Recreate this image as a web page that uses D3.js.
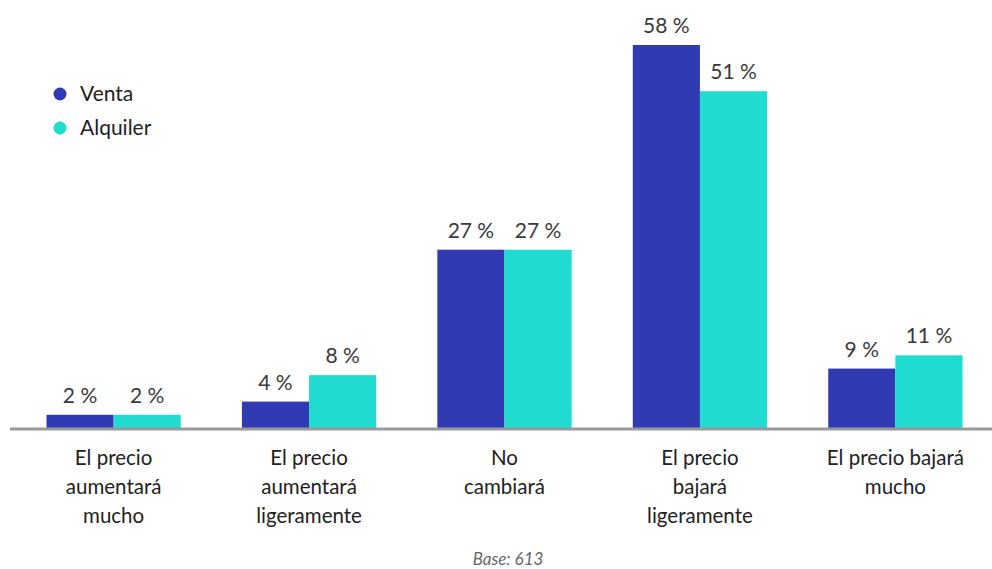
<!DOCTYPE html>
<html lang="es">
<head>
  <meta charset="UTF-8">
  <title>Expectativa de precios</title>
  <style>
    body { margin: 0; background: #fff; }
    svg { display: block; font-family: Lato, "Open Sans", sans-serif; }
  </style>
</head>
<body>
  <svg id="chart" width="992" height="569"></svg>

  <script src="https://d3js.org/d3.v7.min.js"></script>
  <script>
    const categories = [
      ["El precio", "aumentará", "mucho"],
      ["El precio", "aumentará", "ligeramente"],
      ["No", "cambiará"],
      ["El precio", "bajará", "ligeramente"],
      ["El precio bajará", "mucho"]
    ];
    const seriesNames = ["Venta", "Alquiler"];
    const venta = [2, 4, 27, 58, 9];
    const alquiler = [2, 8, 27, 51, 11];
    const colors = { Venta: "#303ab2", Alquiler: "#1fdbd0" };

    const svg = d3.select("#chart");
    const baseY = 428;

    const x = d3.scaleBand()
      .domain(d3.range(categories.length))
      .range([16, 993])
      .paddingInner(0.313)
      .paddingOuter(0.156);

    const xs = d3.scaleBand()
      .domain(seriesNames)
      .range([0, x.bandwidth()]);

    const y = d3.scaleLinear()
      .domain([0, 58])
      .range([baseY, 45]);

    const rows = categories.map((c, i) => ({
      i,
      values: [
        { key: "Venta", value: venta[i] },
        { key: "Alquiler", value: alquiler[i] }
      ]
    }));

    const groups = svg.append("g")
      .selectAll("g")
      .data(rows)
      .join("g")
      .attr("transform", d => `translate(${x(d.i)},0)`);

    groups.selectAll("rect")
      .data(d => d.values)
      .join("rect")
      .attr("x", d => xs(d.key))
      .attr("y", d => y(d.value))
      .attr("width", xs.bandwidth())
      .attr("height", d => baseY - y(d.value))
      .attr("fill", d => colors[d.key]);

    groups.selectAll("text.val")
      .data(d => d.values)
      .join("text")
      .attr("class", "val")
      .attr("x", d => xs(d.key) + xs.bandwidth() / 2)
      .attr("y", d => y(d.value) - 12)
      .attr("text-anchor", "middle")
      .attr("font-size", 21)
      .attr("fill", "#3a3a3a")
      .text(d => d.value + " %");

    // baseline
    svg.append("line")
      .attr("x1", 10).attr("x2", 992)
      .attr("y1", baseY + 1).attr("y2", baseY + 1)
      .attr("stroke", "#9a9a9a")
      .attr("stroke-width", 3);

    // category labels
    const cat = svg.append("g")
      .selectAll("text")
      .data(categories)
      .join("text")
      .attr("x", (d, i) => x(i) + x.bandwidth() / 2)
      .attr("y", 465)
      .attr("text-anchor", "middle")
      .attr("font-size", 20.5)
      .attr("fill", "#222");

    cat.selectAll("tspan")
      .data(d => d)
      .join("tspan")
      .attr("x", function () { return d3.select(this.parentNode).attr("x"); })
      .attr("dy", (d, j) => j === 0 ? 0 : 29)
      .text(d => d);

    // legend
    const legend = svg.append("g")
      .selectAll("g")
      .data(seriesNames)
      .join("g")
      .attr("transform", (d, i) => `translate(60,${94 + i * 34})`);

    legend.append("circle")
      .attr("r", 6.5)
      .attr("fill", d => colors[d]);

    legend.append("text")
      .attr("x", 20)
      .attr("dy", "0.35em")
      .attr("font-size", 21)
      .attr("fill", "#222")
      .text(d => d);

    svg.append("text")
      .attr("x", 508)
      .attr("y", 565)
      .attr("text-anchor", "middle")
      .attr("font-size", 17)
      .attr("font-style", "italic")
      .attr("fill", "#666")
      .text("Base: 613");
  </script>
</body>
</html>
